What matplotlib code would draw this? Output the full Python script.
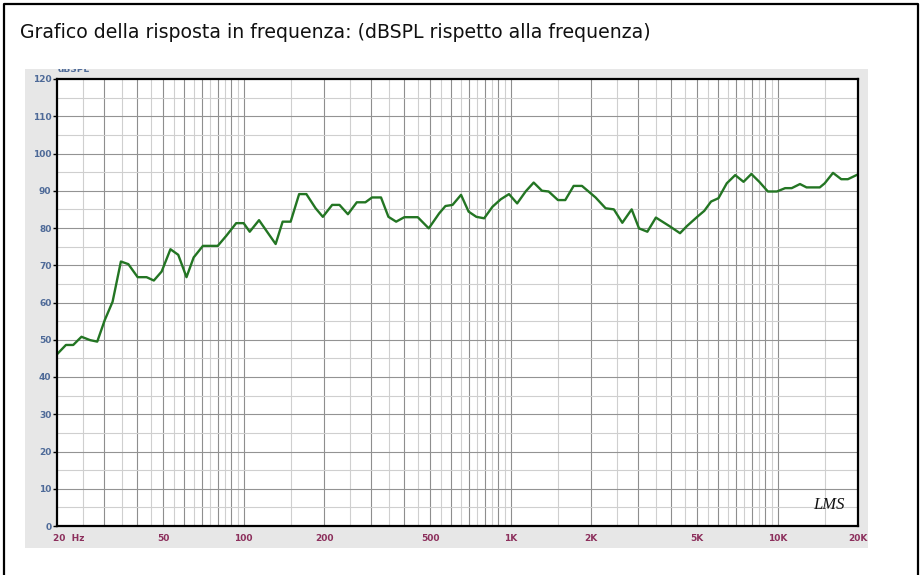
import numpy as np
import matplotlib
matplotlib.use("Agg")
import matplotlib.pyplot as plt
from matplotlib.patches import Rectangle

# frequency response (Hz, dBSPL)
freq = [20, 21.6, 23.0, 24.7, 26.6, 28.3, 30.2, 32.3, 34.7, 37.0,
        40.1, 43.3, 46.1, 49.3, 53.2, 56.9, 61.1, 65.0, 70.4, 80.0,
        86.1, 93.8, 100, 105.4, 114.2, 131.8, 140, 150, 161.4, 171.8,
        186, 198, 214.6, 228.6, 245.8, 265.4, 285.8, 302.6, 327, 348.6,
        372.6, 399.8, 449, 493.6, 539.6, 570, 606, 652, 696, 744,
        796, 855, 918, 986, 1058, 1138, 1220, 1310, 1388, 1504,
        1602, 1722, 1850, 2080, 2268, 2436, 2620, 2840, 3026, 3252,
        3500, 3936, 4310, 4572, 5000, 5312, 5632, 6004, 6450, 6936,
        7454, 7972, 8538, 9194, 9934, 10670, 11292, 12126, 12832, 14386,
        15010, 16122, 17310, 18330, 20000]
spl = [46.1, 48.6, 48.6, 50.8, 49.9, 49.5, 55.3, 60.2, 71.0, 70.3,
       66.8, 66.8, 65.9, 68.3, 74.3, 72.8, 66.8, 72.1, 75.2, 75.2,
       77.9, 81.3, 81.3, 79.0, 82.1, 75.7, 81.7, 81.7, 89.1, 89.1,
       85.3, 83.0, 86.2, 86.2, 83.7, 86.9, 86.9, 88.2, 88.2, 83.0,
       81.7, 82.9, 82.9, 79.9, 83.9, 85.9, 86.2, 88.9, 84.4, 83.0,
       82.6, 85.7, 87.7, 89.1, 86.6, 89.8, 92.2, 90.0, 89.8, 87.5,
       87.5, 91.3, 91.3, 88.2, 85.3, 85.0, 81.4, 85.0, 79.9, 79.0,
       82.8, 80.5, 78.6, 80.5, 83.0, 84.6, 87.1, 88.0, 92.0, 94.2,
       92.4, 94.5, 92.4, 89.8, 89.8, 90.7, 90.7, 91.8, 90.9, 90.9,
       92.0, 94.8, 93.1, 93.1, 94.4]

xticks = [20, 50, 100, 200, 500, 1000, 2000, 5000, 10000, 20000]
xlabels = ["20  Hz", "50", "100", "200", "500", "1K", "2K", "5K", "10K", "20K"]
yticks = list(range(0, 121, 10))

W, H = 923, 575


def box(x0, y0, x1, y1):
    """pixel box (top-left origin) -> figure fraction rect"""
    return [x0 / W, 1 - y1 / H, (x1 - x0) / W, (y1 - y0) / H]


fig = plt.figure(figsize=(W / 100, H / 100), dpi=100)

# grey panel behind the plot, page frame on top of everything
px, py, pw, ph = box(25, 69, 868, 548)
fig.add_artist(Rectangle((px, py), pw, ph, transform=fig.transFigure,
                         facecolor="#e7e7e7", edgecolor="none", zorder=-2))
fig.add_artist(plt.Line2D([4 / W, 4 / W, 918 / W, 918 / W],
                          [0, 1 - 4 / H, 1 - 4 / H, 0],
                          transform=fig.transFigure, color="black", lw=1.6,
                          zorder=10))

fig.text(20 / W, 1 - 32 / H,
         "Grafico della risposta in frequenza: (dBSPL rispetto alla frequenza)",
         fontsize=13.6, va="center", ha="left", color="#111111")

# unit label cut off by the top of the panel
fig.text(58 / W, 1 - 71.5 / H, "dBSPL", fontsize=6.5, fontweight="bold",
         color="#4e6a98", va="baseline", ha="left", zorder=-1)
cx, cy, cw, ch = box(50, 50, 110, 69)
fig.add_artist(Rectangle((cx, cy), cw, ch, transform=fig.transFigure,
                         facecolor="white", edgecolor="none", zorder=-0.5))

ax = fig.add_axes(box(57, 79, 858, 526))
ax.set_xscale("log")
ax.set_xlim(20, 20000)
ax.set_ylim(0, 120)

# grid: dark on 1..9 multiples, light on the halves
dark, light = [], []
for dec in [10, 100, 1000, 10000]:
    for k in range(1, 10):
        for f, lst in ((k * dec, dark), ((k + 0.5) * dec, light)):
            if 20 < f < 20000:
                lst.append(f)
ax.vlines(light, 0, 120, color="#cfcfcf", lw=0.8, zorder=1)
ax.vlines(dark, 0, 120, color="#8e8e8e", lw=0.8, zorder=1)
ax.hlines(np.arange(5, 120, 10), 20, 20000, color="#cfcfcf", lw=0.8, zorder=1)
ax.hlines(np.arange(10, 120, 10), 20, 20000, color="#939393", lw=0.8, zorder=1)

ax.plot(freq, spl, color="#237523", lw=1.7, zorder=3)

ax.set_xticks(xticks)
ax.set_xticklabels(xlabels)
ax.xaxis.set_minor_locator(matplotlib.ticker.NullLocator())
ax.set_yticks(yticks)
ax.tick_params(axis="x", length=0, pad=6, labelsize=6.5, labelcolor="#8c2f5c")
ax.tick_params(axis="y", length=3, width=1, pad=1, labelsize=6.5,
               labelcolor="#4e6a98")
for lab in ax.get_xticklabels() + ax.get_yticklabels():
    lab.set_fontweight("bold")
first = ax.get_xticklabels()[0]
first.set_horizontalalignment("left")
first.set_transform(first.get_transform()
                    + matplotlib.transforms.ScaledTranslation(-4 / 100, 0, fig.dpi_scale_trans))
for s in ax.spines.values():
    s.set_linewidth(1.6)
    s.set_zorder(4)

ax.text(0.983, 0.03, "LMS", transform=ax.transAxes, ha="right", va="bottom",
        fontsize=12, style="italic", family="Liberation Serif", color="#111111")

fig.savefig("out.png", dpi=100)
